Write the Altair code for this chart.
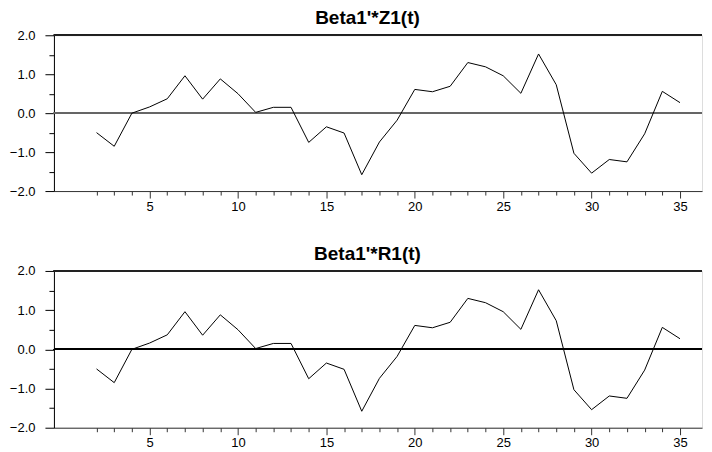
import altair as alt
import pandas as pd

t_values = list(range(2, 36))
z1_values = [-0.50, -0.85, 0.00, 0.16, 0.37, 0.96, 0.36, 0.88, 0.50, 0.02,
             0.15, 0.15, -0.75, -0.35, -0.51, -1.58, -0.74, -0.18, 0.61, 0.55,
             0.69, 1.30, 1.19, 0.96, 0.51, 1.52, 0.73, -1.03, -1.54, -1.19,
             -1.25, -0.53, 0.56, 0.27]
r1_values = list(z1_values)
titles = ["Beta1'*Z1(t)", "Beta1'*R1(t)"]
zero_colors = ["#666666", "#000000"]
x_ticks = list(range(2, 36))
y_ticks = [-2.0, -1.5, -1.0, -0.5, 0.0, 0.5, 1.0, 1.5, 2.0]

FONT = "Liberation Sans"
W = 649
HEIGHTS = [156, 157]

x_scale = alt.Scale(domain=[-0.41, -0.41 + W / 17.706], nice=False, zero=False)
y_scale = alt.Scale(domain=[-2, 2], nice=False, zero=False)
x_axis = alt.Axis(values=x_ticks, title=None, grid=False,
                  labelExpr="datum.value % 5 === 0 ? format(datum.value, 'd') : ''",
                  tickSize={"condition": {"test": "datum.value % 5 === 0", "value": 7}, "value": 4},
                  labelPadding=2, labelFont=FONT, labelFontSize=13,
                  labelColor="#000", domainColor="#333", tickColor="#333",
                  labelFlush=False, labelOverlap=False)
y_axis = alt.Axis(values=y_ticks, title=None, grid=False,
                  labelExpr="datum.value % 1 === 0 ? format(datum.value, '.1f') : ''",
                  tickSize={"condition": {"test": "datum.value % 1 === 0", "value": 9}, "value": 5},
                  labelPadding=10, labelFont=FONT, labelFontSize=13,
                  labelColor="#000", domainColor="#000", tickColor="#000",
                  minExtent=41, maxExtent=41, labelFlush=False, labelOverlap=False)


def panel(values, title, zero_color, h):
    df = pd.DataFrame({"t": t_values, "v": values})
    zero = alt.Chart(df).mark_rule(color=zero_color, strokeWidth=1.2).encode(
        y=alt.YDatum(0.0, type="quantitative", scale=y_scale, axis=y_axis))
    top = alt.Chart(df).mark_rule(color="#222", strokeWidth=1).encode(
        y=alt.YDatum(2.0, type="quantitative", scale=y_scale, axis=y_axis))
    line = alt.Chart(df).mark_line(color="#000", strokeWidth=1).encode(
        x=alt.X("t:Q", scale=x_scale, axis=x_axis),
        y=alt.Y("v:Q", scale=y_scale, axis=y_axis))
    ttl = alt.Chart(pd.DataFrame({"title": [title]})).mark_text(
        font=FONT, fontSize=19, fontWeight="bold", color="#000",
        align="center", baseline="alphabetic"
    ).encode(text="title:N", x=alt.value(314), y=alt.value(-11))
    return alt.layer(zero, top, line, ttl).properties(width=W, height=h)


chart = alt.vconcat(
    panel(z1_values, titles[0], zero_colors[0], HEIGHTS[0]),
    panel(r1_values, titles[1], zero_colors[1], HEIGHTS[1]),
    spacing=30,
).properties(
    padding={"left": 0, "top": 0, "right": 0, "bottom": 0}
).configure_view(stroke=None).configure(background="white")

chart.save("out.html", embed_options={"renderer": "svg", "actions": False})
